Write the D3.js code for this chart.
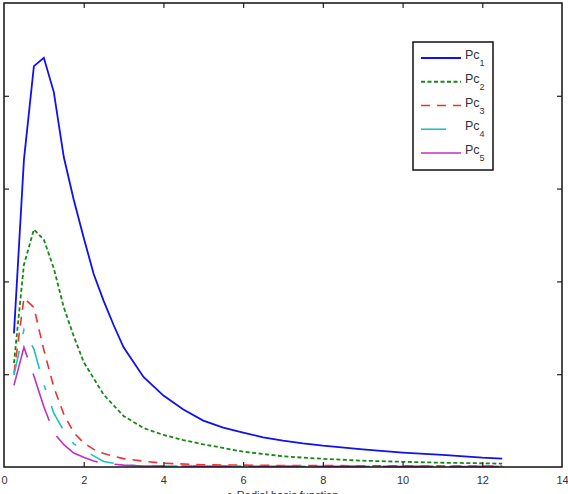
<!DOCTYPE html>
<html>
<head>
<meta charset="utf-8">
<script src="https://cdn.jsdelivr.net/npm/d3@7"></script>
<style>
  body { margin: 0; background: #fff; }
  svg { display: block; font-family: "Liberation Sans", Arial, sans-serif; }
  .tick text { fill: #333; font-size: 11px; }
</style>
</head>
<body>
<svg id="chart" width="568" height="494"></svg>
<script>
// data (r, value)
const r1 = [0.25, 0.5, 0.75, 1.0, 1.25, 1.5, 1.75, 2.0, 2.25, 2.5, 2.75, 3.0, 3.5, 4.0, 4.5, 5, 5.5, 6, 6.5, 7, 7.5, 8, 9, 10, 11, 12, 12.5];
const pc1 = [1.44, 3.31, 4.32, 4.41, 4.04, 3.34, 2.88, 2.47, 2.08, 1.79, 1.53, 1.29, 0.97, 0.77, 0.62, 0.50, 0.425, 0.37, 0.32, 0.285, 0.255, 0.23, 0.19, 0.156, 0.13, 0.10, 0.09];

const r2 = [0.25, 0.5, 0.75, 1.0, 1.25, 1.5, 1.75, 2.0, 2.5, 3.0, 3.5, 4.0, 4.5, 5, 6, 7, 8, 9, 10, 11, 12, 12.5];
const pc2 = [1.12, 2.18, 2.56, 2.45, 2.14, 1.72, 1.41, 1.13, 0.78, 0.55, 0.42, 0.345, 0.29, 0.245, 0.165, 0.115, 0.088, 0.068, 0.056, 0.046, 0.04, 0.036];

const r3 = [0.25, 0.5, 0.75, 1.0, 1.25, 1.5, 1.75, 2.0, 2.25, 2.5, 3.0, 3.5, 4.0, 5, 7, 12.5];
const pc3 = [1.01, 1.82, 1.72, 1.26, 0.86, 0.57, 0.37, 0.26, 0.19, 0.145, 0.09, 0.063, 0.04, 0.024, 0.016, 0.01];

const r4 = [0.25, 0.5, 0.75, 1.0, 1.25, 1.5, 1.75, 2.0, 2.25, 2.5, 3.0, 3.5, 12.5];
const pc4 = [0.99, 1.48, 1.27, 0.89, 0.58, 0.39, 0.25, 0.18, 0.12, 0.06, 0.022, 0.01, 0.006];

const r5 = [0.25, 0.5, 0.75, 1.0, 1.25, 1.5, 1.75, 2.0, 2.25, 2.5, 3.0, 3.5, 12.5];
const pc5 = [0.88, 1.29, 0.98, 0.65, 0.37, 0.24, 0.15, 0.105, 0.065, 0.04, 0.02, 0.01, 0.005];

const xTicks = [0, 2, 4, 6, 8, 10, 12, 14];
const yTicks = [1, 2, 3, 4];
const names = ["Pc1", "Pc2", "Pc3", "Pc4", "Pc5"];
const xLabel = "r, Radial basis function";

const series = [
  { name: names[0], r: r1, v: pc1, color: "#1010f0", dash: null, w: 1.8 },
  { name: names[1], r: r2, v: pc2, color: "#148a14", dash: "4,2.5", w: 1.8 },
  { name: names[2], r: r3, v: pc3, color: "#f03030", dash: "9,7", w: 1.6 },
  { name: names[3], r: r4, v: pc4, color: "#20c0c0", dash: "25,17,5,17", w: 1.6 },
  { name: names[4], r: r5, v: pc5, color: "#c030c0", dash: "50,17", w: 1.6 }
];

const plotL = 4, plotR = 562, plotT = 3, plotB = 467;
const svg = d3.select("#chart");

const x = d3.scaleLinear().domain([0, 14]).range([plotL, plotR]);
const y = d3.scaleLinear().domain([0, 5]).range([plotB, plotT]);

const line = d3.line().x(d => x(d[0])).y(d => y(d[1]));

const lines = svg.append("g");
series.forEach(s => {
  lines.append("path")
    .datum(s.r.map((r, i) => [r, s.v[i]]))
    .attr("fill", "none")
    .attr("stroke", s.color)
    .attr("stroke-width", s.w)
    .attr("stroke-dasharray", s.dash)
    .attr("d", line);
});

// axes with inward ticks
const ax = svg.append("g").attr("transform", `translate(0,${plotB})`)
  .call(d3.axisBottom(x).tickValues(xTicks).tickSize(-5).tickPadding(9).tickFormat(d3.format("d")));
ax.select(".domain").remove();
ax.selectAll(".tick").filter(d => d === 0 || d === 14).select("line").remove();

const axTop = svg.append("g").attr("transform", `translate(0,${plotT})`)
  .call(d3.axisTop(x).tickValues(xTicks.filter(d => d > 0 && d < 14)).tickSize(-5).tickFormat(""));
axTop.select(".domain").remove();

const axL = svg.append("g").attr("transform", `translate(${plotL},0)`)
  .call(d3.axisLeft(y).tickValues(yTicks).tickSize(-5).tickFormat(""));
axL.select(".domain").remove();

const axR = svg.append("g").attr("transform", `translate(${plotR},0)`)
  .call(d3.axisRight(y).tickValues(yTicks).tickSize(-5).tickFormat(""));
axR.select(".domain").remove();

svg.selectAll(".tick line").attr("stroke", "#222").attr("stroke-width", 1.2);

// frame
svg.append("rect")
  .attr("x", plotL).attr("y", plotT)
  .attr("width", plotR - plotL).attr("height", plotB - plotT)
  .attr("fill", "none").attr("stroke", "#111").attr("stroke-width", 1.5);

// x label (cut off at the bottom like the original)
svg.append("text")
  .attr("x", (plotL + plotR) / 2).attr("y", 499)
  .attr("text-anchor", "middle")
  .attr("fill", "#333").attr("font-size", 11)
  .text(xLabel);

// legend
const lg = svg.append("g");
lg.append("rect")
  .attr("x", 413).attr("y", 42).attr("width", 80).attr("height", 128)
  .attr("fill", "#fff").attr("stroke", "#111").attr("stroke-width", 1.5);

const legY = d3.scalePoint().domain(names).range([58, 153]);
series.forEach(s => {
  const ly = legY(s.name);
  lg.append("line")
    .attr("x1", 421).attr("x2", 461).attr("y1", ly).attr("y2", ly)
    .attr("stroke", s.color).attr("stroke-width", s.w)
    .attr("stroke-dasharray", s.dash);
  const t = lg.append("text").attr("x", 465).attr("y", ly + 1)
    .attr("fill", "#333").attr("font-size", 12.5);
  t.append("tspan").text(s.name.slice(0, 2));
  t.append("tspan").attr("dy", 7).attr("font-size", 9).text(s.name.slice(2));
});
</script>
</body>
</html>
